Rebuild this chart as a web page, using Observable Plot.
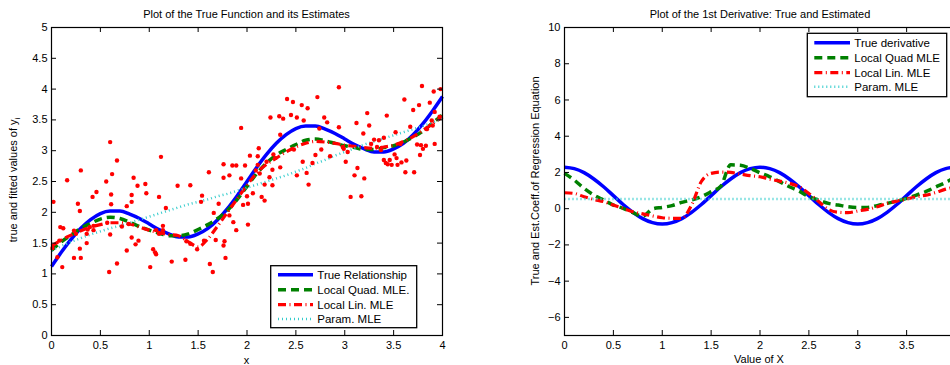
<!DOCTYPE html>
<html>
<head>
<meta charset="utf-8">
<script src="https://cdn.jsdelivr.net/npm/d3@7"></script>
<script src="https://cdn.jsdelivr.net/npm/@observablehq/plot@0.6"></script>
<style>
  html, body { margin: 0; padding: 0; background: #fff; overflow: hidden; }
  #wrap { position: relative; width: 950px; height: 365px; overflow: hidden; }
  #wrap svg { position: absolute; top: 0; }
</style>
</head>
<body>
<div id="wrap"></div>
<script>
// ---------- data ----------
const xGrid = [0,0.1,0.2,0.3,0.4,0.5,0.6,0.7,0.8,0.9,1.0,1.1,1.2,1.3,1.4,1.5,1.6,1.7,1.8,1.9,2.0,
               2.1,2.2,2.3,2.4,2.5,2.6,2.7,2.8,2.9,3.0,3.1,3.2,3.3,3.4,3.5,3.6,3.7,3.8,3.9,4.0];

// left panel: function and estimates
const trueF  = [1.12,1.35,1.56,1.74,1.88,1.98,2.02,2.02,1.97,1.90,1.81,1.72,1.65,1.60,1.60,1.65,1.74,1.88,2.06,2.27,2.50,
                2.73,2.94,3.12,3.26,3.36,3.40,3.40,3.35,3.28,3.19,3.10,3.03,2.98,2.98,3.03,3.12,3.26,3.44,3.65,3.88];
const quadF  = [1.38,1.52,1.63,1.74,1.82,1.89,1.92,1.90,1.84,1.77,1.71,1.66,1.62,1.62,1.65,1.72,1.80,1.90,2.03,2.21,2.42,
                2.63,2.80,2.93,3.02,3.10,3.17,3.19,3.16,3.12,3.08,3.05,3.02,3.02,3.05,3.08,3.14,3.22,3.32,3.45,3.58];
const linF   = [1.45,1.55,1.63,1.70,1.76,1.80,1.83,1.83,1.81,1.76,1.71,1.67,1.64,1.62,1.52,1.44,1.57,1.78,2.00,2.22,2.44,
                2.64,2.78,2.88,2.98,3.06,3.12,3.15,3.14,3.12,3.09,3.07,3.05,3.04,3.06,3.09,3.15,3.23,3.33,3.44,3.55];
const paramF = [1.38,1.45,1.52,1.58,1.64,1.69,1.74,1.78,1.83,1.88,1.93,1.98,2.03,2.08,2.13,2.17,2.21,2.26,2.30,2.35,2.40,
                2.45,2.50,2.55,2.60,2.66,2.72,2.79,2.85,2.92,2.98,3.04,3.10,3.15,3.20,3.25,3.30,3.35,3.40,3.46,3.52];

// observed points
const ptX = [0.02,0.01,0.06,0.09,0.12,0.11,0.08,0.16,0.23,0.25,0.23,0.27,0.29,0.29,0.30,0.30,0.36,0.36,0.37,0.39,
             0.43,0.43,0.42,0.46,0.56,0.60,0.62,0.61,0.61,0.60,0.59,0.67,0.67,0.57,0.72,0.77,0.77,0.82,0.82,0.82,
             0.84,0.86,0.88,0.89,0.79,0.96,0.97,1.01,1.04,1.06,1.07,1.07,1.10,1.12,1.10,1.14,1.14,1.17,1.23,1.29,
             1.37,1.42,1.38,1.42,1.49,1.54,1.53,1.56,1.61,1.62,1.65,1.66,1.68,1.71,1.76,1.76,1.77,1.76,1.78,1.82,
             1.82,1.85,1.86,1.89,1.89,1.94,1.94,1.96,1.98,2.00,2.01,2.01,2.03,2.06,2.11,2.12,2.11,2.13,2.15,2.18,
             2.18,2.23,2.24,2.26,2.27,2.26,2.33,2.34,2.34,2.37,2.41,2.45,2.47,2.48,2.51,2.51,2.56,2.57,2.58,2.61,
             2.62,2.63,2.67,2.70,2.72,2.74,2.76,2.79,2.82,2.85,2.94,2.94,2.98,2.99,3.01,3.03,3.06,3.10,3.12,3.13,
             3.17,3.19,3.20,3.23,3.25,3.27,3.30,3.33,3.35,3.37,3.40,3.40,3.42,3.43,3.44,3.46,3.48,3.51,3.52,3.53,
             3.54,3.57,3.58,3.61,3.62,3.63,3.67,3.70,3.71,3.74,3.76,3.77,3.78,3.79,3.80,3.83,3.84,3.87,3.89,3.90,
             3.91,3.92,3.98,3.97,3.92,2.09,2.20,2.29];
const ptY = [2.17,1.42,1.27,1.76,1.74,1.11,1.54,2.52,1.70,1.65,1.26,2.14,2.02,1.41,1.26,2.68,1.65,1.50,1.72,1.76,
             1.78,1.71,2.25,2.33,2.50,3.14,2.62,2.29,2.13,1.64,1.03,2.84,1.17,1.83,1.77,2.10,1.38,2.17,2.28,1.59,
             2.56,1.48,2.43,1.54,1.81,2.46,2.31,1.11,1.40,1.35,1.32,1.71,2.25,2.90,1.65,1.78,1.71,2.07,1.20,2.43,
             1.23,2.44,1.53,1.49,1.40,2.27,2.17,1.54,2.65,1.16,1.03,1.99,1.55,2.14,2.78,2.56,1.53,1.46,1.26,2.60,
             1.95,2.76,1.84,2.76,1.71,3.37,2.55,2.12,2.76,2.26,2.14,1.80,2.92,2.31,2.91,3.04,2.77,2.63,2.25,2.19,
             2.45,2.57,3.54,2.44,2.94,2.69,3.56,3.26,2.73,3.52,3.84,3.58,3.79,3.02,2.60,3.54,3.74,2.82,3.49,2.64,
             3.69,2.45,2.80,2.93,3.87,3.36,3.02,3.54,3.46,2.91,4.03,3.38,3.06,3.03,2.82,2.98,2.25,2.60,3.45,2.72,
             2.26,3.28,2.55,3.61,3.41,3.11,3.18,3.06,3.17,3.01,3.21,2.85,2.80,3.57,2.78,2.85,2.77,2.94,3.30,2.88,
             2.77,3.11,2.81,3.83,2.65,2.84,3.39,3.66,2.65,3.10,3.74,2.93,3.09,4.05,3.03,3.08,3.35,3.78,3.49,3.41,
             3.96,3.11,4.00,3.55,3.63,2.68,2.82,2.88];

// right panel: first derivative
const trueD  = [2.29,2.21,1.99,1.64,1.21,0.72,0.23,-0.20,-0.55,-0.77,-0.85,-0.77,-0.55,-0.20,0.23,0.72,1.21,1.64,1.99,2.21,2.29,
                2.21,1.99,1.64,1.21,0.72,0.23,-0.20,-0.55,-0.77,-0.85,-0.77,-0.55,-0.20,0.23,0.72,1.21,1.64,1.99,2.21,2.29];
const quadD  = [1.95,1.58,1.12,0.75,0.48,0.20,0.02,-0.22,-0.42,-0.02,0.07,0.17,0.35,0.48,0.66,0.94,1.25,2.42,2.40,2.22,1.98,
                1.76,1.49,1.21,0.97,0.66,0.48,0.29,0.20,0.11,0.07,0.07,0.17,0.29,0.42,0.57,0.75,0.95,1.20,1.45,1.75];
const linD   = [0.88,0.84,0.66,0.51,0.39,0.20,0.02,-0.17,-0.29,-0.40,-0.50,-0.53,-0.53,0.20,1.50,1.95,2.02,2.00,1.91,1.82,1.76,
                1.63,1.52,1.40,1.21,0.84,0.39,-0.04,-0.20,-0.22,-0.13,-0.04,0.11,0.29,0.42,0.53,0.66,0.75,0.90,1.08,1.20];
const paramD = [0.53,0.53,0.53,0.53,0.53,0.53,0.53,0.53,0.53,0.53,0.53,0.53,0.53,0.53,0.53,0.53,0.53,0.53,0.53,0.53,0.53,
                0.53,0.53,0.53,0.53,0.53,0.53,0.53,0.53,0.53,0.53,0.53,0.53,0.53,0.53,0.53,0.53,0.53,0.53,0.53,0.53];

const xTicks = [0,0.5,1,1.5,2,2.5,3,3.5,4];
const xTickLabelsRight = [0,0.5,1,1.5,2,2.5,3,3.5];   // "4" falls outside the window
const yTicksLeft  = [0,0.5,1,1.5,2,2.5,3,3.5,4,4.5,5];
const yTicksRight = [-6,-4,-2,0,2,4,6,8,10];

const leftLabels  = ["True Relationship","Local Quad. MLE.","Local Lin. MLE","Param. MLE"];
const rightLabels = ["True derivative","Local Quad MLE","Local Lin. MLE","Param. MLE"];

// ---------- styling ----------
const FONT = "'Liberation Sans', Arial, Helvetica, sans-serif";
const styles = [
  {stroke: "#0000ff", strokeWidth: 3.5, dash: null},
  {stroke: "#008000", strokeWidth: 3.5, dash: "8,5"},
  {stroke: "#ff0000", strokeWidth: 3.2, dash: "8,3.5,1,3.5"},
  {stroke: "#33cccc", strokeWidth: 2.5, dash: "1,3"}
];
const fmt = d => d < 0 ? "\u2212" + (-d) : String(d);

function panel(opts) {
  const {width, marginLeft, marginRight, yDomain, yTicks, xLabels, series, points} = opts;
  const marginTop = 27, marginBottom = 30, height = 365;
  const ph = height - marginTop - marginBottom;
  const pw = width - marginLeft - marginRight;
  const tl = 5;
  const marks = [];
  series.forEach((vals, i) => {
    const rows = xGrid.map((x, j) => ({x, y: vals[j]}));
    const s = styles[i];
    marks.push(Plot.line(rows, {x: "x", y: "y", stroke: s.stroke, strokeWidth: s.strokeWidth,
      strokeDasharray: s.dash, curve: "monotone-x", strokeLinecap: "butt"}));
  });
  if (points) {
    marks.push(Plot.dot(points.x.map((x, i) => ({x, y: points.y[i]})),
      {x: "x", y: "y", r: 2.2, fill: "#ff0000", stroke: "none"}));
  }
  marks.push(
    Plot.tickX(xTicks, {x: d => d, insetTop: ph - tl, stroke: "black", strokeWidth: 1}),
    Plot.tickX(xTicks, {x: d => d, insetBottom: ph - tl, stroke: "black", strokeWidth: 1}),
    Plot.tickY(yTicks, {y: d => d, insetRight: pw - tl, stroke: "black", strokeWidth: 1}),
    Plot.tickY(yTicks, {y: d => d, insetLeft: pw - tl, stroke: "black", strokeWidth: 1}),
    Plot.frame({stroke: "black", strokeWidth: 1.2}),
    Plot.axisX(xLabels, {tickSize: 0, tickPadding: 6, tickFormat: fmt, label: null}),
    Plot.axisY(yTicks, {tickSize: 0, tickPadding: 4, tickFormat: fmt, label: null})
  );
  return Plot.plot({
    width, height, marginLeft, marginRight, marginTop, marginBottom,
    x: {domain: [0, 4], label: null},
    y: {domain: yDomain, label: null},
    style: {fontFamily: FONT, fontSize: "11px", color: "black", background: "white", overflow: "visible"},
    marks
  });
}

function addText(svg, x, y, txt, opts = {}) {
  const t = d3.select(svg).append("text")
    .attr("x", x).attr("y", y)
    .attr("text-anchor", opts.anchor || "middle")
    .attr("dominant-baseline", opts.baseline || "central")
    .attr("font-family", FONT).attr("font-size", opts.size || 11)
    .attr("fill", "black");
  if (opts.rotate) t.attr("transform", `rotate(-90,${x},${y})`);
  t.text(txt);
  return t;
}

function addLegend(svg, bx, by, bw, bh, labels, lx1, lx2, tx, rowY) {
  const g = d3.select(svg).append("g");
  g.append("rect").attr("x", bx).attr("y", by).attr("width", bw).attr("height", bh)
    .attr("fill", "white").attr("stroke", "black").attr("stroke-width", 1.3);
  labels.forEach((lab, i) => {
    const y = rowY[i];
    const s = styles[i];
    g.append("line").attr("x1", lx1).attr("x2", lx2).attr("y1", y).attr("y2", y)
      .attr("stroke", s.stroke).attr("stroke-width", s.strokeWidth)
      .attr("stroke-dasharray", s.dash);
    g.append("text").attr("x", tx).attr("y", y)
      .attr("text-anchor", "start").attr("dominant-baseline", "central")
      .attr("font-family", FONT).attr("font-size", 11.5).attr("fill", "black").text(lab);
  });
}

const wrap = document.getElementById("wrap");

// left panel
const left = panel({
  width: 475, marginLeft: 51, marginRight: 33,
  yDomain: [0, 5], yTicks: yTicksLeft, xLabels: xTicks,
  series: [trueF, quadF, linF, paramF],
  points: {x: ptX, y: ptY}
});
left.style.left = "0px";
wrap.appendChild(left);
addText(left, 246.5, 14, "Plot of the True Function and its Estimates");
addText(left, 246.5, 360, "x");
const yl = addText(left, 13, 180, "true and fitted values of y", {rotate: true});
yl.append("tspan").attr("baseline-shift", "sub").attr("font-size", 8).text("i");
addLegend(left, 270.7, 265.7, 146, 62, leftLabels, 278, 313, 317.3, [274.7, 289.7, 304.7, 319]);

// right panel
const right = panel({
  width: 480, marginLeft: 89, marginRight: 0,
  yDomain: [-7, 10], yTicks: yTicksRight, xLabels: xTickLabelsRight,
  series: [trueD, quadD, linD, paramD],
  points: null
});
right.style.left = "475px";
wrap.appendChild(right);
addText(right, 285, 14, "Plot of the 1st Derivative: True and Estimated");
addText(right, 284, 359, "Value of X");
addText(right, 60, 181, "True and Est.Coeff.of Regression Equation", {rotate: true});
addLegend(right, 332.3, 33.3, 139.4, 63.4, rightLabels, 339.3, 375, 379.3, [42.7, 57.7, 72.7, 86.7]);
</script>
</body>
</html>
